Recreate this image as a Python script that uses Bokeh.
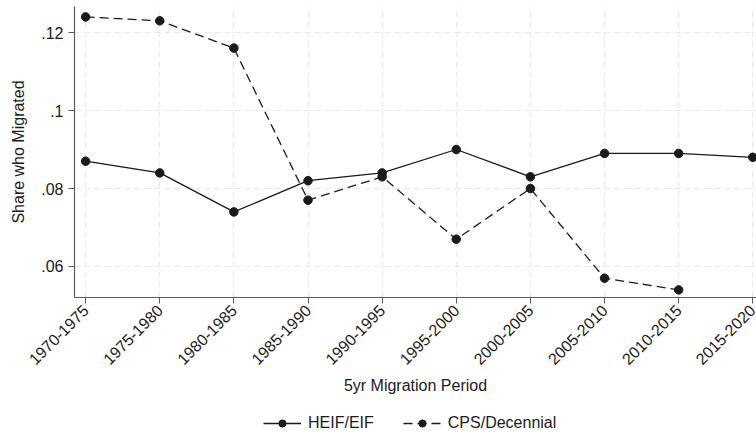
import math
from bokeh.plotting import figure
from bokeh.layouts import column
from bokeh.models import Range1d, FixedTicker, Legend, LegendItem, ColumnDataSource
from bokeh.embed import file_html
from bokeh.resources import INLINE

periods = ["1970-1975", "1975-1980", "1980-1985", "1985-1990", "1990-1995",
           "1995-2000", "2000-2005", "2005-2010", "2010-2015", "2015-2020"]
heif = [0.087, 0.084, 0.074, 0.082, 0.084, 0.090, 0.083, 0.089, 0.089, 0.088]
cps = [0.124, 0.123, 0.116, 0.077, 0.083, 0.067, 0.080, 0.057, 0.054, float("nan")]
y_ticks = [0.06, 0.08, 0.10, 0.12]
y_tick_labels = [".06", ".08", ".1", ".12"]
series_names = ["HEIF/EIF", "CPS/Decennial"]

xs = list(range(len(periods)))
src = ColumnDataSource(dict(x=xs, heif=heif, cps=cps))

FONT = "Liberation Sans"
INK = "#1a1a1a"
AX = "#5a5a5a"

p = figure(frame_width=682, frame_height=291, output_backend="svg", toolbar_location=None,
           x_range=Range1d(-0.15, 9.05), y_range=Range1d(0.05205, 0.12667),
           min_border_left=74, min_border_right=0, min_border_top=6,
           min_border_bottom=0)
p.outline_line_color = None
p.background_fill_color = "white"
p.border_fill_color = "white"


def draw(fig):
    a = fig.line("x", "heif", source=src, line_color=INK, line_width=1.3)
    b = fig.scatter("x", "heif", source=src, size=8.5, color=INK)
    c = fig.line("x", "cps", source=src, line_color=INK, line_width=1.3, line_dash="9 5")
    d = fig.scatter("x", "cps", source=src, size=8.5, color=INK)
    return a, b, c, d


draw(p)

xa = p.xaxis[0]
xa.ticker = FixedTicker(ticks=xs)
xa.major_label_overrides = {i: s for i, s in enumerate(periods)}
xa.major_label_orientation = math.pi / 4
xa.axis_label = "5yr Migration Period"

ya = p.yaxis[0]
ya.ticker = FixedTicker(ticks=y_ticks)
ya.major_label_overrides = {t: s for t, s in zip(y_ticks, y_tick_labels)}
ya.axis_label = "Share who Migrated"

for ax in (xa, ya):
    ax.axis_line_color = AX
    ax.axis_line_width = 1.2
    ax.major_tick_line_color = AX
    ax.major_tick_out = 6
    ax.major_tick_in = 0
    ax.minor_tick_line_color = None
    ax.major_label_text_font = FONT
    ax.major_label_text_font_size = "16px"
    ax.major_label_text_color = INK
    ax.axis_label_text_font = FONT
    ax.axis_label_text_font_size = "16px"
    ax.axis_label_text_font_style = "normal"
    ax.axis_label_text_color = INK

xa.major_label_standoff = 4
xa.axis_label_standoff = 4
ya.major_label_standoff = 5
ya.axis_label_standoff = 11

for g in (p.xgrid[0], p.ygrid[0]):
    g.grid_line_color = "#e9e9e9"
    g.grid_line_dash = "6 4"
    g.grid_line_width = 1.2
p.xgrid[0].ticker = xa.ticker
p.ygrid[0].ticker = ya.ticker

# legend strip (its frame shows an empty region of the data, so only the key is seen)
p2 = figure(width=756, height=40, output_backend="svg", toolbar_location=None,
            x_range=Range1d(100, 101), y_range=Range1d(100, 101),
            min_border=0)
p2.axis.visible = False
p2.grid.visible = False
p2.outline_line_color = None
a, b, c, d = draw(p2)

legend = Legend(items=[LegendItem(label=series_names[0], renderers=[a, b]),
                       LegendItem(label=series_names[1], renderers=[c, d])],
                orientation="horizontal", location=(189, 5),
                label_text_font=FONT, label_text_font_size="16px",
                label_text_color=INK, glyph_width=38, glyph_height=18,
                spacing=29, label_standoff=7, border_line_color=None,
                background_fill_alpha=0, margin=0, padding=0)
p2.add_layout(legend, "center")

layout = column(p, p2, spacing=0)
open("out.html", "w").write(file_html(layout, INLINE))
